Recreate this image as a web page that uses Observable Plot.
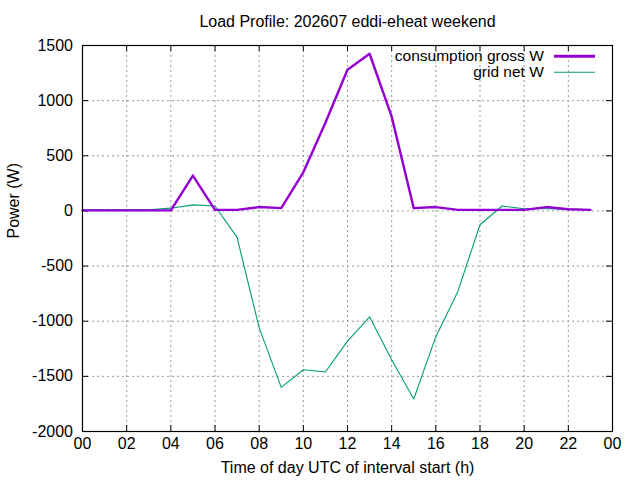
<!DOCTYPE html>
<html>
<head>
<meta charset="utf-8">
<script src="https://cdn.jsdelivr.net/npm/d3@7"></script>
<script src="https://cdn.jsdelivr.net/npm/@observablehq/plot@0.6"></script>
<style>
  html, body { margin: 0; padding: 0; background: #fff; }
  svg { display: block; }
</style>
</head>
<body>
<div id="chart"></div>
<script>
// ---- data ----
const hours = [0, 1, 2, 3, 4, 5, 6, 7, 8, 9, 10, 11, 12, 13, 14, 15, 16, 17, 18, 19, 20, 21, 22, 23];
const consumptionGross = [5, 5, 5, 5, 5, 320, 10, 10, 35, 25, 350, 800, 1280, 1425, 855, 25, 35, 10, 10, 10, 10, 35, 15, 10];
const gridNet = [10, 10, 10, 10, 25, 55, 45, -240, -1060, -1600, -1440, -1460, -1180, -960, -1350, -1705, -1140, -730, -125, 45, 20, 20, 15, 10];
const seriesNames = ["consumption gross W", "grid net W"];
const seriesColors = ["#9400d3", "#009e73"];
const xTicks = [0, 2, 4, 6, 8, 10, 12, 14, 16, 18, 20, 22, 24];
const yTicks = [-2000, -1500, -1000, -500, 0, 500, 1000, 1500];
const titleText = "Load Profile: 202607 eddi-eheat weekend";
const xLabel = "Time of day UTC of interval start (h)";
const yLabel = "Power (W)";

// ---- layout ----
const W = 640, H = 480;
const mTop = 45, mBottom = 49, mLeft = 82, mRight = 28;
const plotW = W - mLeft - mRight, plotH = H - mTop - mBottom;
const tickLen = 6;
const font = "'Liberation Sans', Arial, Helvetica, sans-serif";
const fs = 16;
const fsLegend = 15.5;

const rows = hours.map((h, i) => ({h, gross: consumptionGross[i], net: gridNet[i]}));
const fmtX = d => String(d % 24).padStart(2, "0");
const gridStyle = {stroke: "#999999", strokeOpacity: 1, strokeWidth: 1, strokeDasharray: "2,3"};

const chart = Plot.plot({
  width: W, height: H,
  marginTop: mTop, marginBottom: mBottom, marginLeft: mLeft, marginRight: mRight,
  style: {fontFamily: font, fontSize: fs + "px", color: "#000", background: "#fff"},
  x: {domain: [0, 24], label: null},
  y: {domain: [-2000, 1500], label: null},
  marks: [
    Plot.gridX(xTicks.slice(1, -1), gridStyle),
    Plot.gridY(yTicks.slice(1, -1), gridStyle),
    // inward ticks on all four sides
    Plot.tickX(xTicks, {x: d => d, stroke: "#000", strokeWidth: 1, insetTop: plotH - tickLen}),
    Plot.tickX(xTicks, {x: d => d, stroke: "#000", strokeWidth: 1, insetBottom: plotH - tickLen}),
    Plot.tickY(yTicks, {y: d => d, stroke: "#000", strokeWidth: 1, insetRight: plotW - tickLen}),
    Plot.tickY(yTicks, {y: d => d, stroke: "#000", strokeWidth: 1, insetLeft: plotW - tickLen}),
    Plot.axisX(xTicks, {tickSize: 0, tickPadding: 6.5, tickFormat: fmtX, label: null, fontSize: fs}),
    Plot.axisY(yTicks, {tickSize: 0, tickPadding: 9.5, tickFormat: d => String(d), label: null, fontSize: fs}),
    Plot.lineY(rows, {x: "h", y: "net", stroke: seriesColors[1], strokeWidth: 1.1}),
    Plot.lineY(rows, {x: "h", y: "gross", stroke: seriesColors[0], strokeWidth: 2.4}),
    Plot.frame({stroke: "#000", strokeWidth: 1.2}),
    // title & axis labels
    Plot.text([titleText], {frameAnchor: "top", dy: -23.5, lineAnchor: "middle", fontSize: fs, fill: "#000"}),
    Plot.text([xLabel], {frameAnchor: "bottom", dy: 36, lineAnchor: "middle", fontSize: fs, fill: "#000"}),
    Plot.text([yLabel], {frameAnchor: "left", dx: -68.5, rotate: -90, lineAnchor: "middle", fontSize: fs, fill: "#000"}),
    // legend labels
    Plot.text([seriesNames[0]], {frameAnchor: "top-right", dx: -(W - mRight - 543.3), dy: 10.2, textAnchor: "end", lineAnchor: "middle", fontSize: fsLegend, fill: "#000"}),
    Plot.text([seriesNames[1]], {frameAnchor: "top-right", dx: -(W - mRight - 543.3), dy: 26.4, textAnchor: "end", lineAnchor: "middle", fontSize: fsLegend, fill: "#000"})
  ]
});

// legend line samples
const svg = d3.select(chart);
const legendRows = [
  {y: 56.3, color: seriesColors[0], w: 3},
  {y: 72.3, color: seriesColors[1], w: 1.1}
];
legendRows.forEach(r => {
  svg.append("line")
    .attr("x1", 554).attr("x2", 595)
    .attr("y1", r.y).attr("y2", r.y)
    .attr("stroke", r.color).attr("stroke-width", r.w);
});

document.getElementById("chart").appendChild(chart);
</script>
</body>
</html>
